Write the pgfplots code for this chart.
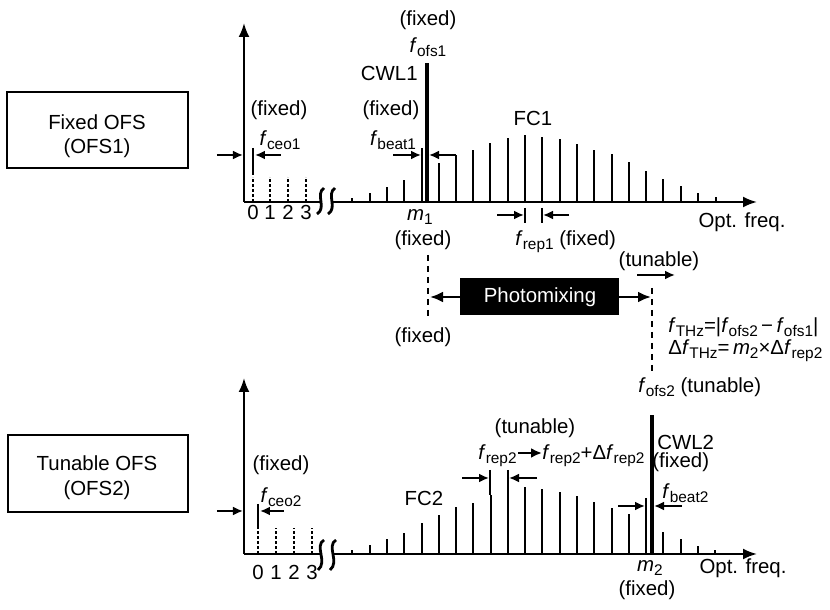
\documentclass[border=0pt]{standalone}
\usepackage{fontspec}
\setmainfont{Liberation Sans}
\usepackage{pgfplots}
\pgfplotsset{compat=1.18}
\usepackage{pgfplotstable}
\usetikzlibrary{arrows.meta}

\newcommand{\sub}[1]{\raisebox{-2.2pt}{\fontsize{7.7pt}{8pt}\selectfont #1}}
\newcommand{\fs}[1]{\textit{f}\sub{#1}}

% comb lines of FC1 (position, height)
\pgfplotstableread{
x h
352 4
370 9
387 15
404 22
422 30
439 39
456 47
473 52
490 59
508 64
525 67
542 65
560 63
577 58
594 52
612 48
629 40
646 31
663 23
681 16
698 9
716 5
}\combone

% comb lines of FC2 (position, height)
\pgfplotstableread{
x h
352 4
370 9
387 15
404 21
422 31
439 39
456 47
473 51
491 59
508 63
525 67
542 65
560 62
577 58
594 52
612 46
629 40
646 30
663 22
681 15
698 8
715 4
}\combtwo

\begin{document}
\begin{tikzpicture}[
  every node/.style={font=\fontsize{10.2pt}{12pt}\selectfont, inner sep=0pt},
  darr/.style={line width=1pt, -{Latex[length=5pt,width=4.5pt]}},
  parr/.style={line width=1.3pt, -{Latex[length=6.5pt,width=5.5pt]}},
  barr/.style={line width=1.1pt, -{Latex[length=5.5pt,width=5pt]}},
  tk/.style={line width=0.6pt},
  dsh/.style={line width=1.2pt, dash pattern=on 3pt off 2.5pt},
  brk/.style={line width=1.4pt},
]
\path (0,0) rectangle (415pt,305pt);

\pgfplotsset{oa/.style={
  x=0.5pt, y=0.5pt, xmin=244, xmax=757, ymin=0, anchor=south west,
  axis lines=left, clip=false, enlargelimits=false,
  axis line style={line width=1.1pt, -{Latex[length=7pt,width=5.5pt]}},
  ytick=\empty, xticklabels={\textrm{0},\textrm{1},\textrm{2},\textrm{3}},
  major tick length=0pt, tick style={draw=none},
}}

% ---------------- top: fixed OFS ----------------
\begin{axis}[oa, ymax=179, at={(122pt,204pt)}, xtick={253,270,288,306},
  xticklabel style={anchor=north, inner sep=0pt, yshift=-1.5pt}]
\addplot[ycomb, black, line width=1.3pt] table[x=x, y=h] {\combone};
\addplot[ycomb, black, line width=1.6pt] coordinates {(427,139)};
\addplot[ycomb, black, line width=1.3pt, dash pattern=on 1.3pt off 1.2pt] coordinates {(253,25) (270,25) (288,25) (306,25)};
% axis break
\fill[white] (axis cs:321,-3) rectangle (axis cs:331,3);
\draw[brk] (axis cs:324,14) .. controls (axis cs:315,8) and (axis cs:327,-6) .. (axis cs:317,-12);
\draw[brk] (axis cs:335,14) .. controls (axis cs:326,8) and (axis cs:338,-6) .. (axis cs:328,-12);
% labels
\node at (axis cs:428,182) {(fixed)};
\node at (axis cs:428,155) {\fs{ofs1}};
\node[anchor=east] at (axis cs:418,129) {CWL1};
\node at (axis cs:391,92) {(fixed)};
\node at (axis cs:393,62) {\fs{beat1}};
\node at (axis cs:279,92) {(fixed)};
\node at (axis cs:280,62) {\fs{ceo1}};
\node at (axis cs:533,84) {FC1};
\node at (axis cs:420,-15) {\textit{m}\sub{1}};
\node at (axis cs:423,-38) {(fixed)};
\node[anchor=west] at (axis cs:515,-40) {\fs{rep1} (fixed)};
\node at (axis cs:742,-20) {Opt. freq.};
% dimension arrows
\draw[darr] (axis cs:217,47) -- (axis cs:243,47);
\draw[tk] (axis cs:253,54) -- (axis cs:253,27);
\draw[darr] (axis cs:281,47) -- (axis cs:255,47);
\draw[darr] (axis cs:393,47) -- (axis cs:421,47);
\draw[tk] (axis cs:422,54) -- (axis cs:422,30);
\draw[darr] (axis cs:456,47) -- (axis cs:429,47);
\draw[darr] (axis cs:497,-13) -- (axis cs:524,-13);
\draw[tk] (axis cs:525,-6) -- (axis cs:525,-21);
\draw[tk] (axis cs:542,-6) -- (axis cs:542,-21);
\draw[darr] (axis cs:569,-13) -- (axis cs:543,-13);
% middle: photomixing
\draw[dsh] (axis cs:428,-53) -- (axis cs:428,-118);
\node at (axis cs:423,-135) {(fixed)};
\fill[black] (axis cs:460,-76) rectangle (axis cs:619,-113);
\node[text=white] at (axis cs:540,-95) {Photomixing};
\draw[parr] (axis cs:460,-95) -- (axis cs:430,-95);
\draw[parr] (axis cs:619,-95) -- (axis cs:651,-95);
\draw[dsh] (axis cs:652,-86) -- (axis cs:652,-173);
\node at (axis cs:659,-59) {(tunable)};
\draw[darr] (axis cs:637,-73) -- (axis cs:675,-73);
\node[anchor=west] at (axis cs:668,-125) {\fs{THz}{=}|\fs{ofs2}\,−\,\fs{ofs1}|};
\node[anchor=west] at (axis cs:668,-149) {Δ\fs{THz}{=}\,\textit{m}\sub{2}{×}Δ\fs{rep2}};
\node[anchor=west] at (axis cs:638,-185) {\fs{ofs2} (tunable)};
% left box
\draw[line width=1.2pt] (axis cs:7,110) rectangle (axis cs:188,34);
\node at (axis cs:97,80) {Fixed OFS};
\node at (axis cs:97,54) {(OFS1)};
\end{axis}

% ---------------- bottom: tunable OFS ----------------
\begin{axis}[oa, ymax=176, at={(122pt,28pt)}, xtick={258,276,294,312},
  xticklabel style={anchor=north, inner sep=0pt, yshift=-5.5pt}]
\addplot[ycomb, black, line width=1.3pt] table[x=x, y=h] {\combtwo};
\addplot[ycomb, black, line width=1.6pt] coordinates {(652,139)};
\addplot[ycomb, black, line width=1.3pt, dash pattern=on 1.3pt off 1.2pt] coordinates {(258,26) (276,26) (294,26) (312,26)};
% axis break
\fill[white] (axis cs:321,-3) rectangle (axis cs:332,3);
\draw[brk] (axis cs:324,14) .. controls (axis cs:314,8) and (axis cs:328,-8) .. (axis cs:318,-16);
\draw[brk] (axis cs:336,14) .. controls (axis cs:326,8) and (axis cs:340,-8) .. (axis cs:330,-16);
% labels
\node at (axis cs:535,126) {(tunable)};
\node[anchor=east] at (axis cs:517,98) {\fs{rep2}};
\draw[barr] (axis cs:518,101) -- (axis cs:542,101);
\node[anchor=west] at (axis cs:542,98) {\fs{rep2}{+}Δ\fs{rep2}};
\draw[darr] (axis cs:462,76) -- (axis cs:489,76);
\draw[tk] (axis cs:490,84) -- (axis cs:490,59);
\draw[tk] (axis cs:508,84) -- (axis cs:508,63);
\draw[darr] (axis cs:537,76) -- (axis cs:509,76);
\node at (axis cs:424,56) {FC2};
\node at (axis cs:281,89) {(fixed)};
\node at (axis cs:281,57) {\fs{ceo2}};
\draw[darr] (axis cs:217,43) -- (axis cs:243,43);
\draw[tk] (axis cs:258,50) -- (axis cs:258,26);
\draw[darr] (axis cs:284,43) -- (axis cs:260,43);
\node[anchor=west] at (axis cs:657,112) {CWL2};
\node[anchor=west] at (axis cs:652,92) {(fixed)};
\node[anchor=west] at (axis cs:662,61) {\fs{beat2}};
\draw[darr] (axis cs:618,48) -- (axis cs:645,48);
\draw[tk] (axis cs:646,56) -- (axis cs:646,30);
\draw[darr] (axis cs:682,48) -- (axis cs:654,48);
\node at (axis cs:650,-14) {\textit{m}\sub{2}};
\node at (axis cs:647,-36) {(fixed)};
\node at (axis cs:743,-14) {Opt. freq.};
% left box
\draw[line width=1.2pt] (axis cs:8,119) rectangle (axis cs:188,42);
\node at (axis cs:97,91) {Tunable OFS};
\node at (axis cs:97,64) {(OFS2)};
\end{axis}
\end{tikzpicture}
\end{document}
